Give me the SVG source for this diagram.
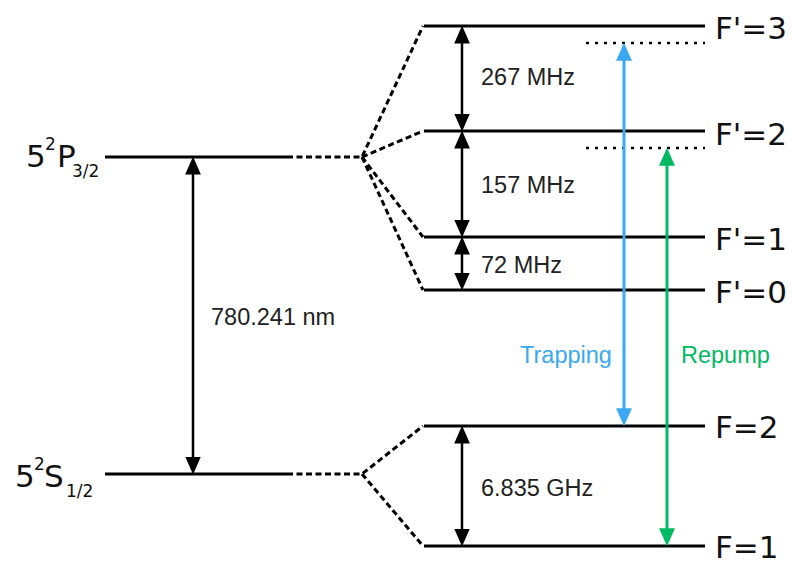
<svg xmlns="http://www.w3.org/2000/svg" width="795" height="562" viewBox="0 0 795 562">
<style>
.lvl{stroke:#000;stroke-width:3;fill:none}
.dash{stroke:#000;stroke-width:3;fill:none;stroke-dasharray:6 3.5}
.dot{stroke:#000;stroke-width:2.5;fill:none;stroke-dasharray:3 6}
.arr{stroke:#000;stroke-width:2.5;fill:none}
.big{font-family:"DejaVu Sans",sans-serif;font-size:31px;fill:#111}
.lab{font-family:"Liberation Sans",Arial,sans-serif;font-size:23.5px;fill:#222}
.sup{font-family:"DejaVu Sans",sans-serif;font-size:17px;fill:#111}
</style>
<defs>
<marker id="hk" markerUnits="userSpaceOnUse" markerWidth="18" markerHeight="16" refX="12" refY="7" orient="auto-start-reverse" viewBox="0 0 16 14"><path d="M0,0 L16,7 L0,14 z" fill="#000"/></marker>
<marker id="hb" markerUnits="userSpaceOnUse" markerWidth="18" markerHeight="16" refX="13" refY="7.5" orient="auto-start-reverse" viewBox="0 0 17 15"><path d="M0,0 L17,7.5 L0,15 z" fill="#3AA9F2"/></marker>
<marker id="hg" markerUnits="userSpaceOnUse" markerWidth="18" markerHeight="16" refX="13" refY="7.5" orient="auto-start-reverse" viewBox="0 0 17 15"><path d="M0,0 L17,7.5 L0,15 z" fill="#00BA62"/></marker>
</defs>
<g id="P32">
<line class="lvl" x1="105" y1="157" x2="287" y2="157"/>
<text class="big" x="26" y="167">5</text><text class="sup" x="45" y="150">2</text><text class="big" x="57" y="167">P</text><text class="sup" x="72" y="177" font-size="15">3/2</text>
</g>
<g id="S12">
<line class="lvl" x1="105" y1="474" x2="287" y2="474"/>
<text class="big" x="15" y="487">5</text><text class="sup" x="34" y="470">2</text><text class="big" x="44" y="487">S</text><text class="sup" x="66" y="497" font-size="15">1/2</text>
</g>
<g id="Fp3"><line class="lvl" x1="424" y1="26" x2="705" y2="26"/><text class="big" x="715" y="39">F'=3</text></g>
<g id="Fp2"><line class="lvl" x1="424" y1="131" x2="705" y2="131"/><text class="big" x="715" y="145">F'=2</text></g>
<g id="Fp1"><line class="lvl" x1="424" y1="237" x2="705" y2="237"/><text class="big" x="715" y="250">F'=1</text></g>
<g id="Fp0"><line class="lvl" x1="424" y1="290" x2="705" y2="290"/><text class="big" x="715" y="303">F'=0</text></g>
<g id="F2"><line class="lvl" x1="424" y1="426" x2="705" y2="426"/><text class="big" x="715" y="438">F=2</text></g>
<g id="F1"><line class="lvl" x1="424" y1="546" x2="705" y2="546"/><text class="big" x="715" y="558">F=1</text></g>
<g id="detuned">
<line class="dot" x1="586" y1="43" x2="705" y2="43"/>
<line class="dot" x1="586" y1="148" x2="705" y2="148"/>
</g>
<g id="connectors">
<path class="dash" d="M287,157 H362 L423,26"/>
<path class="dash" d="M362,157 L423,131"/>
<path class="dash" d="M362,157 L423,237"/>
<path class="dash" d="M362,157 L423,290"/>
<path class="dash" d="M287,474 H362 L423,426"/>
<path class="dash" d="M362,474 L423,546"/>
<line class="arr" x1="193" y1="161" x2="193" y2="470" marker-start="url(#hk)" marker-end="url(#hk)"/>
<line class="arr" x1="462" y1="30" x2="462" y2="127" marker-start="url(#hk)" marker-end="url(#hk)"/>
<line class="arr" x1="462" y1="135" x2="462" y2="233" marker-start="url(#hk)" marker-end="url(#hk)"/>
<line class="arr" x1="462" y1="241" x2="462" y2="286" marker-start="url(#hk)" marker-end="url(#hk)"/>
<line class="arr" x1="462" y1="430" x2="462" y2="542" marker-start="url(#hk)" marker-end="url(#hk)"/>
<line x1="624" y1="47" x2="624" y2="422" stroke="#3AA9F2" stroke-width="3" marker-start="url(#hb)" marker-end="url(#hb)"/>
<line x1="667" y1="152" x2="667" y2="542" stroke="#00BA62" stroke-width="3" marker-start="url(#hg)" marker-end="url(#hg)"/>
</g>
<g id="labels">
<text class="lab" x="481" y="85">267 MHz</text>
<text class="lab" x="481" y="193">157 MHz</text>
<text class="lab" x="481" y="273">72 MHz</text>
<text class="lab" x="211" y="325">780.241 nm</text>
<text class="lab" x="481" y="496">6.835 GHz</text>
<text class="lab" x="520" y="363" style="fill:#3AA9F2">Trapping</text>
<text class="lab" x="681" y="363" style="fill:#00BA62">Repump</text>
</g>
</svg>
